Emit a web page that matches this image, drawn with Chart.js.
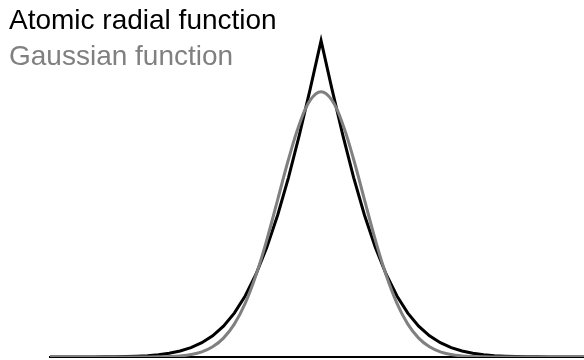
<!DOCTYPE html>
<html>
<head>
<meta charset="utf-8">
<title>Atomic radial function vs Gaussian function</title>
<script src="https://cdn.jsdelivr.net/npm/chart.js@4/dist/chart.umd.min.js"></script>
<style>
  html, body { margin: 0; padding: 0; background: #ffffff; overflow: hidden; }
  #wrap { position: relative; width: 584px; height: 360px; }
</style>
</head>
<body>
<div id="wrap"><canvas id="chart"></canvas></div>
<script>
// Sample positions along the radial coordinate (step 0.2)
const xValues = [
  -5.0, -4.8, -4.6, -4.4, -4.2, -4.0, -3.8, -3.6, -3.4, -3.2,
  -3.0, -2.8, -2.6, -2.4, -2.2, -2.0, -1.8, -1.6, -1.4, -1.2,
  -1.0, -0.8, -0.6, -0.4, -0.2, 0.0, 0.2, 0.4, 0.6, 0.8,
  1.0, 1.2, 1.4, 1.6, 1.8, 2.0, 2.2, 2.4, 2.6, 2.8,
  3.0, 3.2, 3.4, 3.6, 3.8, 4.0, 4.2, 4.4, 4.6, 4.8, 5.0
];

// Atomic (cusped) radial function
const radialValues = [
  0.0000, 0.0000, 0.0001, 0.0001, 0.0002, 0.0004, 0.0008, 0.0014, 0.0025, 0.0043,
  0.0073, 0.0119, 0.0190, 0.0296, 0.0451, 0.0671, 0.0977, 0.1388, 0.1928, 0.2616,
  0.3467, 0.4490, 0.5680, 0.7020, 0.8477, 1.0000, 0.8477, 0.7020, 0.5680, 0.4490,
  0.3467, 0.2616, 0.1928, 0.1388, 0.0977, 0.0671, 0.0451, 0.0296, 0.0190, 0.0119,
  0.0073, 0.0043, 0.0025, 0.0014, 0.0008, 0.0004, 0.0002, 0.0001, 0.0001, 0.0000, 0.0000
];

// Gaussian function
const gaussianValues = [
  0.0000, 0.0000, 0.0000, 0.0000, 0.0000, 0.0000, 0.0000, 0.0000, 0.0001, 0.0002,
  0.0005, 0.0014, 0.0034, 0.0076, 0.0162, 0.0321, 0.0596, 0.1038, 0.1694, 0.2590,
  0.3708, 0.4975, 0.6251, 0.7360, 0.8117, 0.8386, 0.8117, 0.7360, 0.6251, 0.4975,
  0.3708, 0.2590, 0.1694, 0.1038, 0.0596, 0.0321, 0.0162, 0.0076, 0.0034, 0.0014,
  0.0005, 0.0002, 0.0001, 0.0000, 0.0000, 0.0000, 0.0000, 0.0000, 0.0000, 0.0000, 0.0000
];

const seriesLabels = ['Atomic radial function', 'Gaussian function'];
const seriesColors = ['#000000', '#808080'];

const toPoints = (ys) => xValues.map((x, i) => ({ x: x, y: ys[i] }));

// Text legend in the top-left corner, one line per series in its own colour
const textLegend = {
  id: 'textLegend',
  afterDraw(chart) {
    const ctx = chart.ctx;
    ctx.save();
    ctx.font = '28px "Liberation Sans", Arial, sans-serif';
    ctx.textAlign = 'left';
    ctx.textBaseline = 'alphabetic';
    chart.data.datasets.forEach((ds, i) => {
      ctx.fillStyle = ds.borderColor;
      ctx.fillText(ds.label, 9, 29 + i * 36);
    });
    ctx.restore();
  }
};

new Chart(document.getElementById('chart'), {
  type: 'line',
  data: {
    datasets: [
      {
        label: seriesLabels[0],
        data: toPoints(radialValues),
        borderColor: seriesColors[0],
        borderWidth: 3,
        tension: 0,
        borderJoinStyle: 'miter',
        pointRadius: 0,
        fill: false,
        order: 1
      },
      {
        label: seriesLabels[1],
        data: toPoints(gaussianValues),
        borderColor: seriesColors[1],
        borderWidth: 3,
        tension: 0.4,
        cubicInterpolationMode: 'default',
        pointRadius: 0,
        fill: false,
        order: 0
      }
    ]
  },
  options: {
    responsive: true,
    maintainAspectRatio: false,
    animation: false,
    devicePixelRatio: 1,
    layout: { padding: { left: 50, top: 9, right: 0, bottom: 3 } },
    plugins: {
      legend: { display: false },
      tooltip: { enabled: false }
    },
    scales: {
      x: {
        type: 'linear',
        min: -5,
        max: 4.85,
        display: true,
        grid: { display: false, drawTicks: false },
        ticks: { display: false },
        border: { display: true, color: '#000000', width: 2 }
      },
      y: {
        type: 'linear',
        min: 0,
        max: 1.1,
        display: false
      }
    }
  },
  plugins: [textLegend]
});
</script>
</body>
</html>
